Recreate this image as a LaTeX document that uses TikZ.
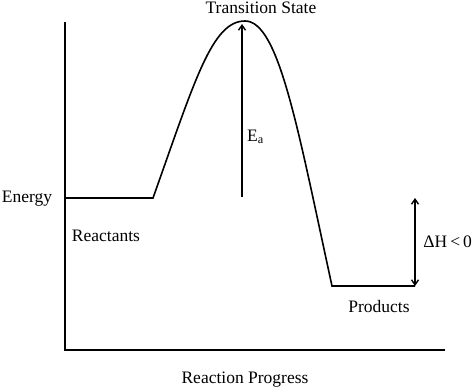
\documentclass[tikz,border=0pt]{standalone}
\usepackage{fontspec}
\setmainfont{Liberation Serif}
\usetikzlibrary{arrows.meta}
\begin{document}
\begin{tikzpicture}[x=1pt,y=-1pt,
  line/.style={line width=1.6pt},
  arr/.style={line width=1.4pt,-{Straight Barb[length=5pt,width=7pt]}},
  darr/.style={line width=1.4pt,{Straight Barb[length=5pt,width=7pt]}-{Straight Barb[length=5pt,width=7pt]}},
  lbl/.style={font=\fontsize{17.5}{20}\selectfont,inner sep=0pt}]
\useasboundingbox (0,0) rectangle (474,391);
% axes
\coordinate (ytop) at (65,22);
\coordinate (origin) at (65,350);
\coordinate (xend) at (445,350);
\draw[line] (ytop) -- (origin) -- (xend);
% energy profile
\coordinate (r0) at (65,198);
\coordinate (r1) at (153,198);
\coordinate (peak) at (245,21);
\coordinate (p0) at (332,286);
\coordinate (p1) at (415,286);
\draw[line] (r0) -- (r1) .. controls (195,80) and (212,21) .. (peak) .. controls (279,21) and (298,130) .. (p0) -- (p1);
% Ea arrow
\coordinate (eabot) at (242,197);
\coordinate (eatop) at (242,24);
\draw[arr] (eabot) -- (eatop);
% Delta H arrow
\coordinate (dhtop) at (415,198);
\draw[darr] (dhtop) -- (p1);
% labels
\node[lbl] (ts) at (261,8) {Transition State};
\node[lbl] (energy) at (27,199) {Energy};
\node[lbl] (react) at (106,236) {Reactants};
\node[lbl,anchor=west] (ea) at (247,137) {E\textsubscript{a}};
\node[lbl,anchor=east] (dh) at (472,242) {ΔH\,<\,0};
\node[lbl] (prod) at (379,307) {Products};
\node[lbl] (rp) at (245,380) {Reaction Progress};
\end{tikzpicture}
\end{document}
